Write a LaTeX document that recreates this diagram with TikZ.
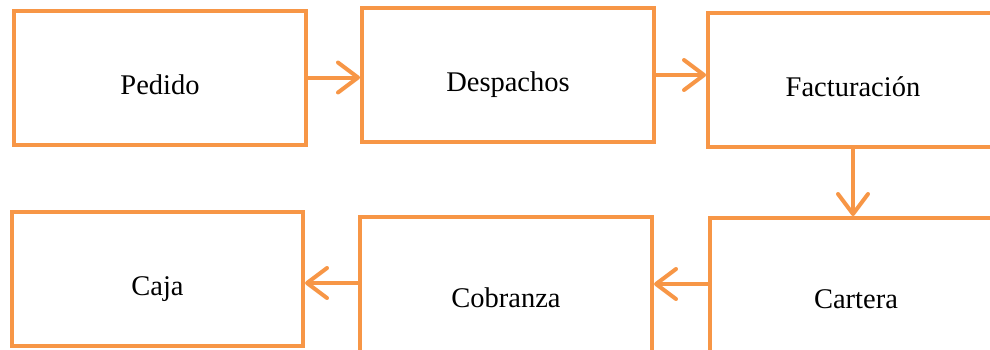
\documentclass[tikz,border=0pt]{standalone}
\usepackage{fontspec}
\setmainfont{Liberation Serif}
\usetikzlibrary{arrows.meta}
\definecolor{naranja}{HTML}{F79646}
\tikzset{
  bloque/.style={draw=naranja, line width=4pt, minimum width=292pt, minimum height=134pt,
    inner sep=0pt, text height=33.8pt, text depth=0pt, font=\fontsize{28.5}{34}\selectfont},
  flecha/.style={draw=naranja, line width=4pt, -{Straight Barb[length=20pt,width=30pt,round]}}
}
\begin{document}
\begin{tikzpicture}[x=1pt,y=-1pt]
    \useasboundingbox (0,0) rectangle (990,349);
    \clip (0,0) rectangle (990,349);
    \node[bloque] (pedido) at (160,77.5) {Pedido};
    \node[bloque] (despachos) at (508,75) {Despachos};
    \node[bloque, minimum width=290pt] (facturacion) at (853,79.5) {Facturación};
    \node[bloque, minimum width=291pt] (caja) at (157.5,279) {Caja};
    \node[bloque, minimum height=148pt] (cobranza) at (506,291) {Cobranza};
    \node[bloque, minimum height=148pt] (cartera) at (856,292) {Cartera};
    \draw[flecha] (pedido.east) -- (pedido.east -| despachos.west);
    \draw[flecha] (despachos.east) -- (despachos.east -| facturacion.west);
    \draw[flecha] (facturacion.south) -- (facturacion.south |- cartera.north);
    \draw[flecha] ([yshift=8pt]cartera.west) -- ([yshift=8pt]cartera.west -| cobranza.east);
    \draw[flecha] ([yshift=8pt]cobranza.west) -- ([yshift=8pt]cobranza.west -| caja.east);
  \end{tikzpicture}
\end{document}
